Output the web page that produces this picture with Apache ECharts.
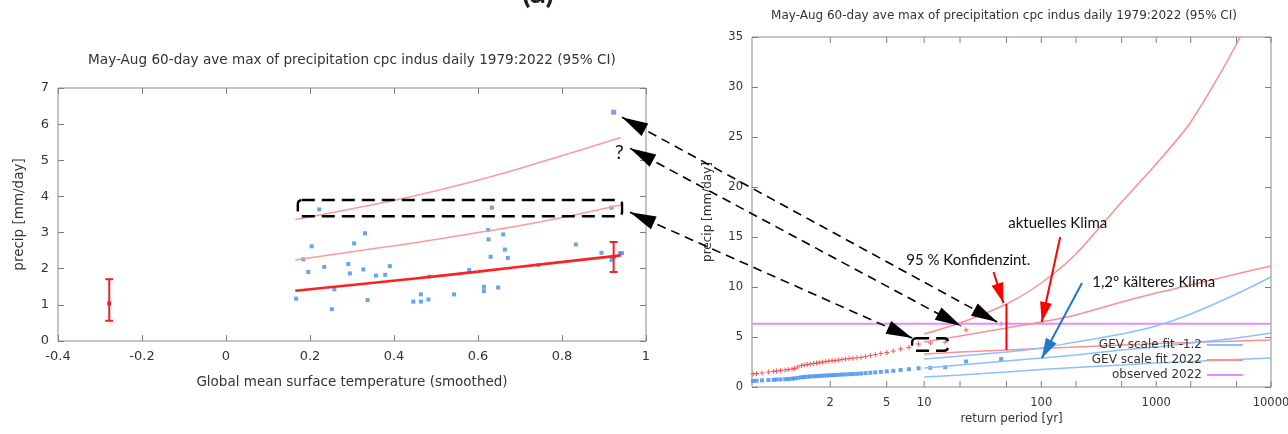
<!DOCTYPE html>
<html><head><meta charset="utf-8">
<script src="https://cdn.jsdelivr.net/npm/echarts@6/dist/echarts.min.js"></script>
<style>html,body{margin:0;padding:0;background:#fff}#c{width:1288px;height:434px}</style>
</head><body><div id="c"></div>
<script>
// ---------- text ----------
const titleText = 'May-Aug 60-day ave max of precipitation cpc indus daily 1979:2022 (95% CI)';
const xNameLeft = 'Global mean surface temperature (smoothed)';
const yName = 'precip [mm/day]';
const xNameRight = 'return period [yr]';
const legendNames = ['GEV scale fit -1.2', 'GEV scale fit 2022', 'observed 2022'];

// ---------- left panel: precip vs GMST ----------
const obsGmst = [0.222,0.204,0.305,0.331,0.184,0.196,0.234,0.291,0.295,0.327,0.357,0.379,0.39,0.484,0.258,0.167,0.252,0.337,0.446,0.464,0.464,0.482,0.543,0.579,0.624,0.625,0.633,0.66,0.664,0.671,0.63,0.614,0.614,0.648,0.744,0.833,0.894,0.918,0.918,0.938,0.943];
const obsPrecip = [3.64,2.62,2.70,2.98,2.26,1.91,2.05,2.13,1.87,1.98,1.81,1.83,2.07,1.78,1.43,1.17,0.88,1.13,1.09,1.09,1.29,1.15,1.29,1.96,3.07,2.81,3.69,2.95,2.53,2.30,2.33,1.50,1.38,1.48,2.10,2.67,2.44,3.69,2.24,2.43,2.43];
const gmst2022 = 0.923;
const obs2022 = 6.33;
const fitGmst = [0.165, 0.3, 0.45, 0.6, 0.75, 0.94];
const fitMu = [1.39, 1.55, 1.73, 1.92, 2.12, 2.37];
const fitRL6 = [2.24, 2.47, 2.72, 3.0, 3.3, 3.76];
const fitRL40 = [3.36, 3.66, 4.02, 4.45, 4.95, 5.63];
const errGmst = [-0.278, 0.923];
const errLow = [0.56, 1.91];
const errMid = [1.04, 2.33];
const errHigh = [1.71, 2.74];

// ---------- right panel: return periods ----------
const retT = [45,22.5,15,11.25,9,7.5,6.43,5.63,5,4.5,4.09,3.75,3.46,3.21,3,2.81,2.65,2.5,2.37,2.25,2.14,2.05,1.96,1.88,1.8,1.73,1.67,1.61,1.55,1.5,1.45,1.41,1.36,1.32,1.29,1.25,1.22,1.18,1.15,1.13,1.1,1.07,1.05,1.04];
const obsNow = [6.33,5.7,4.5,4.4,4.3,3.95,3.8,3.6,3.45,3.35,3.25,3.15,3.05,2.96,2.92,2.88,2.85,2.8,2.75,2.7,2.65,2.62,2.6,2.55,2.5,2.45,2.4,2.35,2.3,2.25,2.2,2.15,2.0,1.85,1.8,1.75,1.7,1.65,1.6,1.55,1.5,1.4,1.35,1.3];
const obsCold = [2.8,2.55,1.98,1.92,1.87,1.78,1.7,1.62,1.56,1.51,1.47,1.43,1.39,1.35,1.32,1.3,1.28,1.26,1.24,1.22,1.2,1.18,1.17,1.15,1.13,1.11,1.09,1.07,1.05,1.03,1.0,0.97,0.92,0.86,0.83,0.8,0.78,0.76,0.74,0.72,0.7,0.66,0.63,0.6];
const fitT = [10,20,50,100,200,500,1000,2000,5000,10000];
const nowUpper = [5.3,6.4,8.3,10.4,13.3,18.5,22.3,26.5,34.3,42];
const nowMid = [4.5,5.1,5.9,6.5,7.2,8.5,9.4,10.2,11.3,12.1];
const nowLower = [3.3,3.5,3.7,3.85,4.0,4.2,4.35,4.45,4.6,4.7];
const coldUpper = [2.8,3.1,3.5,3.9,4.5,5.3,6.1,7.3,9.3,11.0];
const coldMid = [1.9,2.2,2.6,2.9,3.2,3.7,4.0,4.4,4.9,5.4];
const coldLower = [1.0,1.2,1.5,1.75,1.95,2.2,2.4,2.55,2.75,2.9];
const ciT = 50, ciLow = 3.7, ciHigh = 8.3;
const rpTickT = [2,5,10,20,50,100,200,500,1000,2000,5000,10000];
const rpTickLabels = ['2','5','10','','','100','','','1000','','','10000'];

// Gumbel transform used by the return-period axis
function gumbel(T){ return -Math.log(-Math.log(1 - 1/T)); }
const G_MIN = -1.204, G_MAX = gumbel(10000);

const FONT = 'DejaVu Sans';
const TXT = '#333';
const RED_PT = '#ff2a2a', RED_FIT = '#ff8f8f', BLUE_PT = '#3a8ff0', BLUE_FIT = '#8cc0ff', PURPLE = '#e48cff';
const zip = (a,b) => a.map((v,i)=>[v,b[i]]);
const zipT = (t,v) => t.map((T,i)=>[gumbel(T), v[i]]);
const plus = 'path://M0,2h5v1h-5zM2,0h1v5h-1z';

const tick = {inside:true, length:6, lineStyle:{color:'#808080'}};
const noLine = {show:false, onZero:false};
const lab = (fs) => ({color:TXT, fontFamily:FONT, fontSize:fs});

const chart = echarts.init(document.getElementById('c'));
const option = {
  animation:false,
  grid:[
    {left:58, top:88, width:588, height:253, show:true, borderColor:'#8c8c8c', borderWidth:1},
    {left:752, top:37, width:519, height:350, show:true, borderColor:'#8c8c8c', borderWidth:1}
  ],
  xAxis:[
    {gridIndex:0, type:'value', min:-0.4, max:1, interval:0.2, axisLine:noLine, axisTick:tick, splitLine:{show:false},
     axisLabel:Object.assign(lab(13),{margin:9}), name:xNameLeft, nameLocation:'middle', nameGap:34, nameTextStyle:lab(13.5)},
    {gridIndex:0, type:'value', position:'top', min:-0.4, max:1, interval:0.2, axisLine:noLine, axisTick:tick, axisLabel:{show:false}, splitLine:{show:false}},
    {gridIndex:1, type:'value', min:G_MIN, max:G_MAX, axisLine:noLine, axisTick:{show:false}, axisLabel:{show:false}, splitLine:{show:false},
     name:xNameRight, nameLocation:'middle', nameGap:26, nameTextStyle:lab(11.8)}
  ],
  yAxis:[
    {gridIndex:0, type:'value', min:0, max:7, interval:1, axisLine:noLine, axisTick:tick, splitLine:{show:false},
     axisLabel:Object.assign(lab(13),{margin:9}), name:yName, nameLocation:'middle', nameGap:32, nameTextStyle:lab(13.5)},
    {gridIndex:0, type:'value', position:'right', min:0, max:7, interval:1, axisLine:noLine, axisTick:tick, axisLabel:{show:false}, splitLine:{show:false}},
    {gridIndex:1, type:'value', min:0, max:35, interval:5, axisLine:noLine, axisTick:tick, splitLine:{show:false},
     axisLabel:Object.assign(lab(11.5),{margin:9}), name:yName, nameLocation:'middle', nameGap:38, nameTextStyle:lab(12)},
    {gridIndex:1, type:'value', position:'right', min:0, max:35, interval:5, axisLine:noLine, axisTick:tick, axisLabel:{show:false}, splitLine:{show:false}}
  ],
  legend:{data:legendNames, orient:'vertical', align:'right', right:45, top:339, itemWidth:36, itemHeight:2, itemGap:3, icon:'rect',
          selectedMode:false, padding:0, textStyle:{color:TXT, fontFamily:FONT, fontSize:12}},
  series:[
    // left panel
    {type:'scatter', name:'obs', xAxisIndex:0, yAxisIndex:0, data:zip(obsGmst, obsPrecip), symbol:'rect', symbolSize:4, itemStyle:{color:BLUE_PT}},
    {type:'scatter', name:'obs2022', xAxisIndex:0, yAxisIndex:0, data:[[gmst2022, obs2022]], symbol:'rect', symbolSize:5, itemStyle:{color:'#8a6cff'}},
    {type:'line', name:'mu', xAxisIndex:0, yAxisIndex:0, data:zip(fitGmst, fitMu), smooth:true, showSymbol:false, lineStyle:{color:'#ff2020', width:2.6}},
    {type:'line', name:'rl6', xAxisIndex:0, yAxisIndex:0, data:zip(fitGmst, fitRL6), smooth:true, showSymbol:false, lineStyle:{color:'#ff9a9a', width:1.5}},
    {type:'line', name:'rl40', xAxisIndex:0, yAxisIndex:0, data:zip(fitGmst, fitRL40), smooth:true, showSymbol:false, lineStyle:{color:'#ff9a9a', width:1.5}},
    {type:'custom', name:'err', xAxisIndex:0, yAxisIndex:0, clip:false,
     data:errGmst.map((x,i)=>[x, errLow[i], errMid[i], errHigh[i]]),
     renderItem:function(params, api){
       const x = api.value(0);
       const lo = api.coord([x, api.value(1)]), md = api.coord([x, api.value(2)]), hi = api.coord([x, api.value(3)]);
       const st = {stroke:'#ee2222', lineWidth:2};
       return {type:'group', children:[
         {type:'line', shape:{x1:lo[0], y1:lo[1], x2:hi[0], y2:hi[1]}, style:st},
         {type:'line', shape:{x1:lo[0]-4, y1:lo[1], x2:lo[0]+4, y2:lo[1]}, style:st},
         {type:'line', shape:{x1:hi[0]-4, y1:hi[1], x2:hi[0]+4, y2:hi[1]}, style:st},
         {type:'rect', shape:{x:md[0]-2, y:md[1]-2, width:4, height:4}, style:{fill:'#ee2222'}}
       ]};
     }},
    // right panel
    {type:'line', name:'observed 2022', xAxisIndex:2, yAxisIndex:2, data:[[G_MIN, obs2022],[G_MAX, obs2022]], showSymbol:false, itemStyle:{color:PURPLE}, lineStyle:{color:PURPLE, width:2}},
    {type:'line', name:'GEV scale fit 2022', xAxisIndex:2, yAxisIndex:2, data:zipT(fitT, nowUpper), smooth:0.25, showSymbol:false, itemStyle:{color:RED_FIT}, lineStyle:{color:RED_FIT, width:1.5}},
    {type:'line', name:'GEV scale fit 2022', xAxisIndex:2, yAxisIndex:2, data:zipT(fitT, nowMid), smooth:0.25, showSymbol:false, itemStyle:{color:RED_FIT}, lineStyle:{color:RED_FIT, width:1.5}},
    {type:'line', name:'GEV scale fit 2022', xAxisIndex:2, yAxisIndex:2, data:zipT(fitT, nowLower), smooth:0.25, showSymbol:false, itemStyle:{color:RED_FIT}, lineStyle:{color:RED_FIT, width:1.5}},
    {type:'line', name:'GEV scale fit -1.2', xAxisIndex:2, yAxisIndex:2, data:zipT(fitT, coldUpper), smooth:0.25, showSymbol:false, itemStyle:{color:BLUE_FIT}, lineStyle:{color:BLUE_FIT, width:1.5}},
    {type:'line', name:'GEV scale fit -1.2', xAxisIndex:2, yAxisIndex:2, data:zipT(fitT, coldMid), smooth:0.25, showSymbol:false, itemStyle:{color:BLUE_FIT}, lineStyle:{color:BLUE_FIT, width:1.5}},
    {type:'line', name:'GEV scale fit -1.2', xAxisIndex:2, yAxisIndex:2, data:zipT(fitT, coldLower), smooth:0.25, showSymbol:false, itemStyle:{color:BLUE_FIT}, lineStyle:{color:BLUE_FIT, width:1.5}},
    {type:'scatter', name:'obs now', xAxisIndex:2, yAxisIndex:2, data:zipT(retT, obsNow), symbol:plus, symbolSize:5, itemStyle:{color:RED_PT}},
    {type:'scatter', name:'obs cold', xAxisIndex:2, yAxisIndex:2, data:zipT(retT, obsCold), symbol:'rect', symbolSize:4, itemStyle:{color:BLUE_PT}},
    {type:'line', name:'CI 50yr', xAxisIndex:2, yAxisIndex:2, data:[[gumbel(ciT), ciLow],[gumbel(ciT), ciHigh]], showSymbol:false, lineStyle:{color:'#ff0000', width:2}},
    {type:'custom', name:'rpTicks', xAxisIndex:2, yAxisIndex:2, clip:false, silent:true,
     data:rpTickT.map(t=>[gumbel(t)]),
     renderItem:function(params, api){
       const g = api.value(0);
       const b = api.coord([g, 0]), t = api.coord([g, 35]);
       const s = {stroke:'#808080', lineWidth:1};
       const ch = [
         {type:'line', shape:{x1:b[0], y1:b[1], x2:b[0], y2:b[1]-6}, style:s},
         {type:'line', shape:{x1:t[0], y1:t[1], x2:t[0], y2:t[1]+6}, style:s}
       ];
       const L = rpTickLabels[params.dataIndex];
       if (L) ch.push({type:'text', x:b[0], y:b[1]+10, style:{text:L, fill:TXT, font:'11.5px "DejaVu Sans"', align:'center', verticalAlign:'top', textAlign:'center', textVerticalAlign:'top'}});
       return {type:'group', children:ch};
     }}
  ]
};
chart.setOption(option);

// ---------- hand-drawn overlay, anchored to data coordinates ----------
const Lp = (x,y) => chart.convertToPixel({xAxisIndex:0, yAxisIndex:0}, [x,y]);
const Rp = (T,y) => chart.convertToPixel({xAxisIndex:2, yAxisIndex:2}, [gumbel(T),y]);

function head(tip, from, len, hw, color){
  const dx = tip[0]-from[0], dy = tip[1]-from[1], d = Math.hypot(dx,dy), ux = dx/d, uy = dy/d;
  const bx = tip[0]-ux*len, by = tip[1]-uy*len;
  return {type:'polygon', z:200, shape:{points:[[tip[0],tip[1]],[bx-uy*hw, by+ux*hw],[bx+uy*hw, by-ux*hw]]}, style:{fill:color}};
}
function txt(p, s, size, weight){
  return {type:'text', z:200, x:p[0], y:p[1], style:{text:s, fill:'#111', font:(weight||'normal')+' '+size+'px Lato', align:'center', verticalAlign:'middle', textAlign:'center', textVerticalAlign:'middle'}};
}
function box(p1, p2){
  return {type:'rect', z:200, shape:{x:Math.min(p1[0],p2[0]), y:Math.min(p1[1],p2[1]), width:Math.abs(p2[0]-p1[0]), height:Math.abs(p2[1]-p1[1]), r:4},
          style:{fill:'transparent', stroke:'#000', lineWidth:2.4, lineDash:[13,7]}};
}
const g = [];
// dashed double-headed arrows linking the two panels
const links = [
  [Lp(0.943, 6.19), Rp(41.6, 6.5)],
  [Lp(0.962, 5.33), Rp(20.4, 6.1)],
  [Lp(0.962, 3.56), Rp(7.97, 4.9)]
];
links.forEach(([a,b])=>{
  g.push({type:'line', z:199, shape:{x1:a[0], y1:a[1], x2:b[0], y2:b[1]}, style:{stroke:'#000', lineWidth:1.6, lineDash:[9,6]}});
  g.push(head(a, b, 26, 7, '#000'));
  g.push(head(b, a, 26, 7, '#000'));
});
g.push(box(Lp(0.171, 3.90), Lp(0.943, 3.45)));
g.push(box(Rp(7.97, 4.87), Rp(15.9, 3.63)));
g.push(txt(Lp(0.936, 5.22), '?', 20));
// red / blue pointers
const redA = [Rp(38.7, 11.5), Rp(47.1, 8.4)];
const redB = [Rp(146, 15.0), Rp(101, 6.5)];
const bluA = [Rp(226, 10.4), Rp(101, 2.87)];
[[redA,'#ff0000'],[redB,'#ff0000'],[bluA,'#1f78c8']].forEach(([ab,c])=>{
  const [a,b] = ab;
  g.push({type:'line', z:199, shape:{x1:a[0], y1:a[1], x2:b[0], y2:b[1]}, style:{stroke:c, lineWidth:2}});
  g.push(head(b, a, 20, 6, c));
});
g.push(txt(Rp(23.5, 12.7), '95 % Konfidenzint.', 15));
g.push(txt(Rp(139, 16.4), 'aktuelles Klima', 15));
g.push(txt(Rp(952, 10.5), '1,2° kälteres Klima', 15));
// titles
g.push({type:'text', x:352, y:60, style:{text:titleText, fill:TXT, font:'13.6px "DejaVu Sans"', align:'center', verticalAlign:'middle', textAlign:'center', textVerticalAlign:'middle'}});
g.push({type:'text', x:1004, y:16, style:{text:titleText, fill:TXT, font:'12px "DejaVu Sans"', align:'center', verticalAlign:'middle', textAlign:'center', textVerticalAlign:'middle'}});
g.push({type:'text', x:538, y:9, style:{text:'(a)', fill:'#222', font:'bold 32px Lato', align:'center', verticalAlign:'bottom', textAlign:'center', textVerticalAlign:'bottom'}});
chart.setOption({graphic:g});
</script>
</body></html>
